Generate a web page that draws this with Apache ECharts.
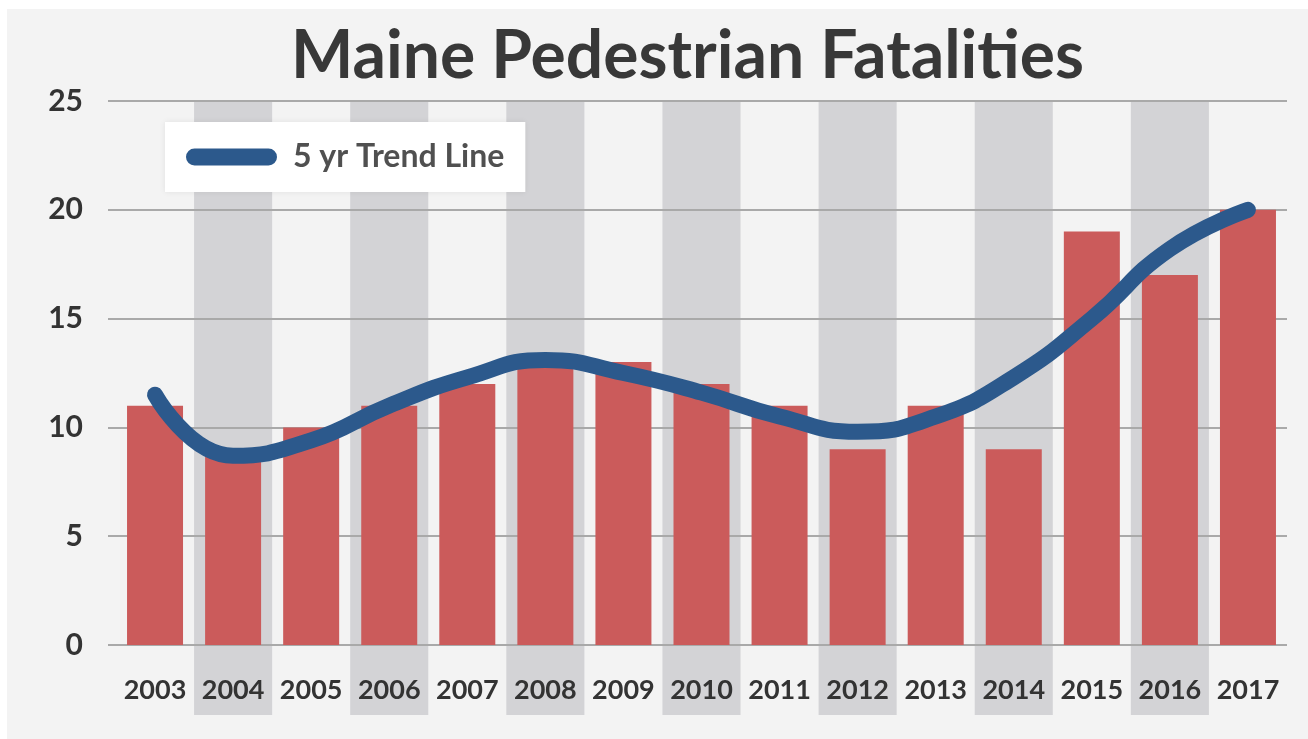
<!DOCTYPE html>
<html>
<head>
<meta charset="utf-8">
<script src="https://cdn.jsdelivr.net/npm/echarts@6/dist/echarts.min.js"></script>
<style>
  html, body { margin: 0; padding: 0; background: #fff; }
  #chart { width: 1308px; height: 739px; }
</style>
</head>
<body>
<div id="chart"></div>
<script>
// data
const years = ['2003','2004','2005','2006','2007','2008','2009','2010','2011','2012','2013','2014','2015','2016','2017'];
const fatalities = [11, 9, 10, 11, 12, 13, 13, 12, 11, 9, 11, 9, 19, 17, 20];
const trend = [11.5, 8.7, 9.4, 11.0, 12.3, 13.1, 12.5, 11.6, 10.5, 9.8, 10.5, 12.3, 15.0, 18.2, 20.0];
const yTicks = [0, 5, 10, 15, 20, 25];

const font = 'Lato, "Open Sans", sans-serif';
const gridColor = '#a9a9a9';

const chart = echarts.init(document.getElementById('chart'));

const option = {
  backgroundColor: '#ffffff',
  animation: false,
  graphic: [{
    type: 'rect', z: -10,
    shape: { x: 7, y: 9, width: 1301, height: 730 },
    style: { fill: '#f3f3f3' }
  }],
  title: {
    text: 'Maine Pedestrian Fatalities',
    left: 286, top: 19,
    textStyle: { fontFamily: font, fontSize: 66, fontWeight: 'bold', color: '#383838' }
  },
  legend: {
    data: ['5 yr Trend Line'],
    left: 165, top: 122,
    padding: [19, 21],
    backgroundColor: '#ffffff',
    shadowColor: 'rgba(0,0,0,0.08)', shadowBlur: 6,
    itemWidth: 91, itemHeight: 17,
    icon: 'path://M8.5,0 L82.5,0 A8.5,8.5 0 0 1 82.5,17 L8.5,17 A8.5,8.5 0 0 1 8.5,0 Z',
    itemStyle: { color: '#2c598c' },
    textStyle: { fontFamily: font, fontSize: 32, fontWeight: 'bold', color: '#505050', padding: [0, 0, 0, 11], lineHeight: 32 }
  },
  grid: [
    { left: 116, right: 21, top: 101, bottom: 94 },
    { left: 116, right: 21, top: 101, bottom: 24 }
  ],
  xAxis: [
    {
      type: 'category', data: years, gridIndex: 0,
      axisLine: { show: false }, axisTick: { show: false },
      axisLabel: { interval: 0, margin: 32, fontFamily: font, fontSize: 27, fontWeight: 'bold', color: '#333' }
    },
    {
      type: 'category', data: years, gridIndex: 1, z: -1,
      axisLine: { show: false }, axisTick: { show: false }, axisLabel: { show: false },
      splitArea: { show: true, interval: 0, areaStyle: { color: ['rgba(0,0,0,0)', '#d3d3d6'] } }
    }
  ],
  yAxis: [
    {
      type: 'value', gridIndex: 0, min: yTicks[0], max: yTicks[yTicks.length - 1], interval: 5, z: 1,
      axisLine: { show: false },
      axisTick: { show: true, length: 8, lineStyle: { color: gridColor, width: 2 } },
      splitLine: { lineStyle: { color: gridColor, width: 2 } },
      axisLabel: { margin: 33, fontFamily: font, fontSize: 30, fontWeight: 'bold', color: '#333' }
    },
    { type: 'value', gridIndex: 1, show: false, min: 0, max: 1 }
  ],
  series: [
    {
      name: 'Fatalities', type: 'bar', data: fatalities,
      xAxisIndex: 0, yAxisIndex: 0, barWidth: 56,
      itemStyle: { color: '#cb5b5b' }
    },
    {
      name: '5 yr Trend Line', type: 'line', data: trend,
      xAxisIndex: 0, yAxisIndex: 0, smooth: 0.5, showSymbol: false, z: 5,
      itemStyle: { color: '#2c598c' },
      lineStyle: { color: '#2c598c', width: 16, cap: 'round', join: 'round' }
    }
  ]
};

chart.setOption(option);
window.addEventListener('resize', () => chart.resize());
</script>
</body>
</html>
